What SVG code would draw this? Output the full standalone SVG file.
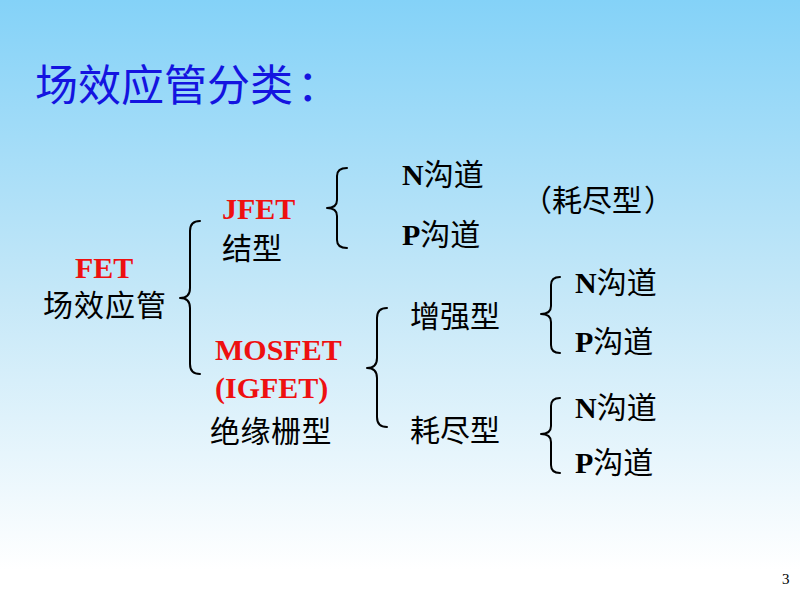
<svg xmlns="http://www.w3.org/2000/svg" width="800" height="600" viewBox="0 0 800 600">
<defs>
<linearGradient id="bg" x1="0" y1="0" x2="0" y2="1">
<stop offset="0" stop-color="#84D2F8"/>
<stop offset="0.5" stop-color="#C6E8F8"/>
<stop offset="0.95" stop-color="#FFFFFF"/>
</linearGradient>
<style>
.cn{font-family:"Noto Sans CJK SC","Noto Sans",sans-serif;font-size:30px;fill:#000}
.lat{font-family:"Liberation Serif","Times New Roman",serif;font-weight:bold}
.red{font-family:"Liberation Serif","Times New Roman",serif;font-weight:bold;font-size:30px;fill:#EE1010}
.title{font-family:"Noto Sans CJK SC","Noto Sans",sans-serif;font-size:43px;fill:#1414E0}
.brace{fill:none;stroke:#000;stroke-width:2;stroke-linecap:round;stroke-linejoin:round}
.pg{font-family:"Liberation Serif",serif;font-size:15px;fill:#000}
</style>
</defs>
<rect width="800" height="600" fill="url(#bg)"/>
<g id="title"><text class="title" x="35" y="101">场效应管分类<tspan dx="4">：</tspan></text></g>

<g id="fet">
<text class="red" x="75" y="278">FET</text>
<text class="cn" x="43" y="316" letter-spacing="1">场效应管</text>
</g>
<g id="jfet">
<text class="red" x="222" y="219">JFET</text>
<text class="cn" x="222" y="259">结型</text>
</g>
<g id="mosfet">
<text class="red" x="215" y="360">MOSFET</text>
<text class="red" x="215" y="398">(IGFET)</text>
<text class="cn" x="210" y="442" letter-spacing="0.5">绝缘栅型</text>
</g>
<g id="jfet-n"><text class="cn" x="402" y="185"><tspan class="lat">N</tspan>沟道</text></g>
<g id="jfet-p"><text class="cn" x="402" y="245"><tspan class="lat">P</tspan>沟道</text></g>
<g id="jfet-note"><text class="cn" x="522" y="211" font-size="27">（耗尽型<tspan dx="2">）</tspan></text></g>
<g id="enh"><text class="cn" x="410" y="327">增强型</text></g>
<g id="dep"><text class="cn" x="410" y="441">耗尽型</text></g>
<g id="enh-n"><text class="cn" x="575" y="293"><tspan class="lat">N</tspan>沟道</text></g>
<g id="enh-p"><text class="cn" x="575" y="352"><tspan class="lat">P</tspan>沟道</text></g>
<g id="dep-n"><text class="cn" x="575" y="418"><tspan class="lat">N</tspan>沟道</text></g>
<g id="dep-p"><text class="cn" x="575" y="473"><tspan class="lat">P</tspan>沟道</text></g>

<g id="connectors">
<path class="brace" d="M200 221 Q190 221 190 231 L190 288 Q190 298 180 298 Q190 298 190 308 L190 364 Q190 374 200 374"/>
<path class="brace" d="M347 168 Q337 168 337 176 L337 200 Q337 208 327 208 Q337 208 337 216 L337 240 Q337 248 347 248"/>
<path class="brace" d="M387 308 Q377 308 377 318 L377 358 Q377 368 367 368 Q377 368 377 378 L377 417 Q377 427 387 427"/>
<path class="brace" d="M560 277 Q551 277 551 285 L551 306 Q551 314 541 314 Q551 314 551 322 L551 345 Q551 353 560 353"/>
<path class="brace" d="M560 398 Q551 398 551 406 L551 426 Q551 434 541 434 Q551 434 551 442 L551 465 Q551 473 560 473"/>
</g>
<g id="page"><text class="pg" x="782" y="584">3</text></g>
</svg>
